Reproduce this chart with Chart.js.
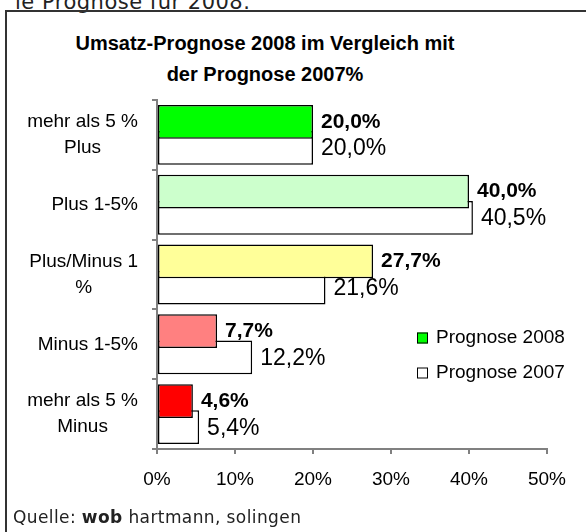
<!DOCTYPE html>
<html>
<head>
<meta charset="utf-8">
<script src="https://cdn.jsdelivr.net/npm/chart.js@4.4.0/dist/chart.umd.min.js"></script>
<style>
  html, body { margin: 0; padding: 0; background: #fff; }
  body { width: 586px; height: 532px; position: relative; overflow: hidden; font-family: "Liberation Sans", Arial, sans-serif; }
  #topText { position: absolute; left: 15px; top: -10px; font-family: "DejaVu Sans", sans-serif; font-size: 21px; line-height: 24px; color: #222; white-space: nowrap; letter-spacing: 0.5px; }
  #frame { position: absolute; left: 5px; top: 10px; width: 640px; height: 600px; border: 2px solid #333; }
  #title { position: absolute; left: 0; top: 28px; width: 530px; text-align: center; font-weight: bold; font-size: 20px; line-height: 31px; color: #000; }
  #source { position: absolute; left: 13px; top: 506px; font-family: "DejaVu Sans", sans-serif; font-size: 17px; line-height: 22px; color: #222; white-space: nowrap; letter-spacing: 0.4px; }
  canvas { position: absolute; left: 0; top: 0; }
</style>
</head>
<body>
<div id="topText">ie Prognose für 2008.</div>
<div id="frame"></div>
<div id="title">Umsatz-Prognose 2008 im Vergleich mit<br>der Prognose 2007%</div>
<canvas id="chart" width="586" height="532"></canvas>
<div id="source">Quelle: <b>wob</b> hartmann, solingen</div>
<script>
const categories = [
  ['mehr als 5 %', 'Plus'],
  ['Plus 1-5%'],
  ['Plus/Minus 1', '%'],
  ['Minus 1-5%'],
  ['mehr als 5 %', 'Minus']
];
const seriesNames = ['Prognose 2008', 'Prognose 2007'];
const values2008 = [20.0, 40.0, 27.7, 7.7, 4.6];
const values2007 = [20.0, 40.5, 21.6, 12.2, 5.4];
const colors2008 = ['#00ff00', '#ccffcc', '#ffff99', '#ff8080', '#ff0000'];
const color2007 = '#ffffff';
const xMin = 0;
const xMax = 50;
const xStep = 10;

const FONT = '"Liberation Sans", Arial, sans-serif';
Chart.defaults.font.family = FONT;
Chart.defaults.color = '#000';

function fmt(v) {
  return v.toFixed(1).replace('.', ',') + '%';
}

// Kategorie-Beschriftungen: Zeilen zentriert, Block rechtsbündig
const categoryLabels = {
  id: 'categoryLabels',
  afterDraw(chart) {
    const ctx = chart.ctx;
    const yScale = chart.scales.y;
    const right = chart.chartArea.left - 19;
    ctx.save();
    ctx.font = '19px ' + FONT;
    ctx.fillStyle = '#000';
    ctx.textAlign = 'center';
    ctx.textBaseline = 'middle';
    categories.forEach((lines, i) => {
      const cy = yScale.getPixelForValue(i);
      const w = Math.max(...lines.map(l => ctx.measureText(l).width));
      const cx = right - w / 2;
      lines.forEach((l, j) => {
        ctx.fillText(l, cx, cy + (j - (lines.length - 1) / 2) * 26);
      });
    });
    ctx.restore();
  }
};

// Werte rechts neben den Balken
const valueLabels = {
  id: 'valueLabels',
  afterDatasetsDraw(chart) {
    const ctx = chart.ctx;
    ctx.save();
    ctx.fillStyle = '#000';
    ctx.textAlign = 'left';
    ctx.textBaseline = 'middle';
    chart.data.datasets.forEach((ds, d) => {
      const meta = chart.getDatasetMeta(d);
      ctx.font = d === 0 ? 'bold 21px ' + FONT : '23px ' + FONT;
      meta.data.forEach((bar, i) => {
        ctx.fillText(fmt(ds.data[i]), bar.x + 8, bar.y + (d === 0 ? 0 : 1));
      });
    });
    ctx.restore();
  }
};

// Legende im Diagrammbereich
const boxLegend = {
  id: 'boxLegend',
  afterDraw(chart) {
    const ctx = chart.ctx;
    ctx.save();
    ctx.font = '19px ' + FONT;
    ctx.textBaseline = 'middle';
    ctx.textAlign = 'left';
    chart.data.datasets.forEach((ds, d) => {
      const y = 338 + d * 35;
      const fill = Array.isArray(ds.backgroundColor) ? ds.backgroundColor[0] : ds.backgroundColor;
      ctx.fillStyle = fill;
      ctx.fillRect(417, y - 5.5, 11, 11);
      ctx.strokeStyle = '#000';
      ctx.lineWidth = 1;
      ctx.strokeRect(417.5, y - 5, 10, 10);
      ctx.fillStyle = '#000';
      ctx.fillText(ds.label, 436, y);
    });
    ctx.restore();
  }
};

new Chart(document.getElementById('chart'), {
  type: 'bar',
  data: {
    labels: categories,
    datasets: [
      {
        label: seriesNames[0],
        data: values2008,
        backgroundColor: colors2008,
        borderColor: '#000',
        borderWidth: 1.5,
        borderSkipped: false
      },
      {
        label: seriesNames[1],
        data: values2007,
        backgroundColor: color2007,
        borderColor: '#000',
        borderWidth: 1.5,
        borderSkipped: false
      }
    ]
  },
  options: {
    indexAxis: 'y',
    responsive: false,
    animation: false,
    categoryPercentage: 0.75,
    barPercentage: 1.29,
    layout: { padding: { top: 100, right: 39, bottom: 43, left: 0 } },
    plugins: {
      legend: { display: false },
      title: { display: false },
      tooltip: { enabled: false }
    },
    scales: {
      x: {
        min: xMin,
        max: xMax,
        ticks: {
          stepSize: xStep,
          padding: 14,
          font: { size: 19 },
          color: '#000',
          callback: v => v + '%'
        },
        grid: { drawOnChartArea: false, drawTicks: true, tickLength: 5, color: '#808080', lineWidth: 2 },
        border: { color: '#808080', width: 2 },
        afterFit: s => { s.height = 40; }
      },
      y: {
        ticks: { display: false },
        grid: { drawOnChartArea: false, drawTicks: true, tickLength: 5, color: '#808080', lineWidth: 2, offset: true },
        border: { color: '#808080', width: 2 },
        afterFit: s => { s.width = 157; }
      }
    }
  },
  plugins: [categoryLabels, valueLabels, boxLegend]
});
</script>
</body>
</html>
